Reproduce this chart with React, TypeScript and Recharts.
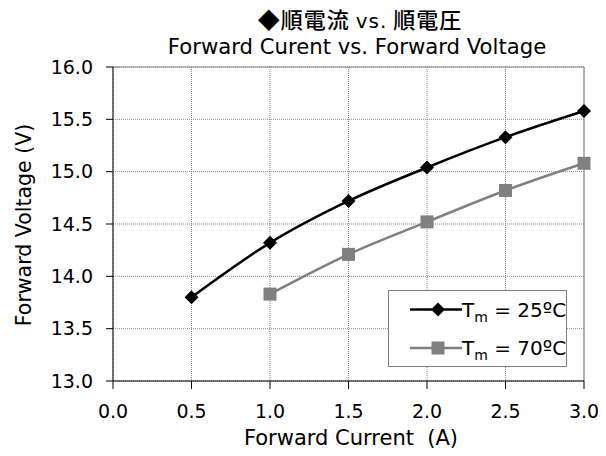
import React from "react";
import {
  LineChart,
  Line,
  XAxis,
  YAxis,
  CartesianGrid,
  ReferenceLine,
} from "recharts";

const currents25 = [0.5, 1.0, 1.5, 2.0, 2.5, 3.0];
const voltages25 = [13.8, 14.32, 14.72, 15.04, 15.33, 15.58];
const currents70 = [1.0, 1.5, 2.0, 2.5, 3.0];
const voltages70 = [13.83, 14.21, 14.52, 14.82, 15.08];
const xTicks = [0, 0.5, 1.0, 1.5, 2.0, 2.5, 3.0];
const yTicks = [13.0, 13.5, 14.0, 14.5, 15.0, 15.5, 16.0];
const seriesNames = ["25ºC", "70ºC"];

const allX = Array.from(new Set([...currents25, ...currents70])).sort((a, b) => a - b);
const data = allX.map((x) => {
  const i25 = currents25.indexOf(x);
  const i70 = currents70.indexOf(x);
  return {
    x,
    t25: i25 >= 0 ? voltages25[i25] : null,
    t70: i70 >= 0 ? voltages70[i70] : null,
  };
});

const FONT = "'DejaVu Sans', Verdana, sans-serif";

const Diamond = (props: any) => {
  const { cx, cy, value } = props;
  if (value == null || cx == null || cy == null) return null;
  const r = 7;
  return (
    <path
      d={`M${cx},${cy - r}L${cx + r},${cy}L${cx},${cy + r}L${cx - r},${cy}Z`}
      fill="#000"
    />
  );
};

const Square = (props: any) => {
  const { cx, cy, value } = props;
  if (value == null || cx == null || cy == null) return null;
  const s = 6.5;
  return <rect x={cx - s} y={cy - s} width={2 * s} height={2 * s} fill="#808080" />;
};

const LegendBox = () => (
  <svg
    width={180}
    height={78}
    style={{ position: "absolute", left: 380, top: 282 }}
  >
    <rect x={0.5} y={0.5} width={178} height={76} fill="#fff" stroke="#808080" strokeWidth={1} />
    {seriesNames.map((n, i) => {
      const cy = i === 0 ? 19.5 : 58;
      return (
        <g key={n}>
          <line x1={22} y1={cy} x2={74} y2={cy} stroke={i === 0 ? "#000" : "#808080"} strokeWidth={2.5} />
          {i === 0 ? (
            <path d={`M50,${cy - 7}L57,${cy}L50,${cy + 7}L43,${cy}Z`} fill="#000" />
          ) : (
            <rect x={43.5} y={cy - 6.5} width={13} height={13} fill="#808080" />
          )}
          <text x={74} y={cy + 7} fontFamily={FONT} fontSize={20} fill="#000">
            T
            <tspan fontSize={14} dy={5}>m</tspan>
            <tspan dy={-5}> = {n}</tspan>
          </text>
        </g>
      );
    })}
  </svg>
);

export default function App() {
  return (
    <div style={{ position: "relative", width: 598, height: 448, fontFamily: FONT }}>
      <LineChart
        width={598}
        height={448}
        data={data}
        margin={{ top: 59, right: 22, bottom: 0, left: 0 }}
      >
        <CartesianGrid stroke="#888" strokeDasharray="1 1" />
        <XAxis
          dataKey="x"
          type="number"
          domain={[0, 3]}
          ticks={xTicks}
          tickFormatter={(v: number) => v.toFixed(1)}
          tickSize={8}
          tickMargin={16}
          stroke="#000"
          tick={{ fill: "#000", fontSize: 19, fontFamily: FONT }}
          height={75}
          allowDecimals
        />
        <YAxis
          type="number"
          domain={[13, 16]}
          ticks={yTicks}
          tickFormatter={(v: number) => v.toFixed(1)}
          tickSize={7}
          tickMargin={13}
          stroke="#000"
          tick={{ fill: "#000", fontSize: 19, fontFamily: FONT }}
          width={105}
        />
        <ReferenceLine y={16} stroke="#808080" strokeWidth={1} />
        <ReferenceLine x={3} stroke="#808080" strokeWidth={1} />
        <Line
          dataKey="t25"
          type="monotone"
          stroke="#000"
          strokeWidth={2.5}
          dot={<Diamond />}
          activeDot={false}
          connectNulls
          isAnimationActive={false}
        />
        <Line
          dataKey="t70"
          type="monotone"
          stroke="#808080"
          strokeWidth={2.5}
          dot={<Square />}
          activeDot={false}
          connectNulls
          isAnimationActive={false}
        />
      </LineChart>
      <LegendBox />
      <div
        style={{
          position: "absolute",
          left: 0,
          top: 0,
          width: 598,
          height: 448,
          fontFamily: FONT,
          color: "#000",
          pointerEvents: "none",
        }}
      >
        <div
          style={{
            position: "absolute",
            left: 352 - 150,
            top: 10 - 14,
            width: 300,
            height: 28,
            lineHeight: "28px",
            textAlign: "center",
            fontSize: 22,
            fontWeight: 500,
            letterSpacing: 1,
            fontFamily: "'Noto Sans CJK JP', " + FONT,
            whiteSpace: "nowrap",
          }}
        >
          ◆順電流 <span style={{ fontFamily: FONT, fontWeight: "normal", fontSize: 20 }}>vs.</span> 順電圧
        </div>
        <div
          style={{
            position: "absolute",
            left: 349 - 250,
            top: 39 - 13,
            width: 500,
            height: 26,
            lineHeight: "26px",
            textAlign: "center",
            fontSize: 21.2,
            whiteSpace: "nowrap",
          }}
        >
          Forward Curent vs. Forward Voltage
        </div>
        <div
          style={{
            position: "absolute",
            left: 343 - 200,
            top: 430 - 13,
            width: 400,
            height: 26,
            lineHeight: "26px",
            textAlign: "center",
            fontSize: 21,
            whiteSpace: "nowrap",
          }}
        >
          Forward Current&nbsp;&nbsp;(A)
        </div>
        <div
          style={{
            position: "absolute",
            left: 16 - 150,
            top: 217 - 13,
            width: 300,
            height: 26,
            lineHeight: "26px",
            textAlign: "center",
            fontSize: 20.5,
            transform: "rotate(-90deg)",
            whiteSpace: "nowrap",
          }}
        >
          Forward Voltage (V)
        </div>
      </div>
    </div>
  );
}
